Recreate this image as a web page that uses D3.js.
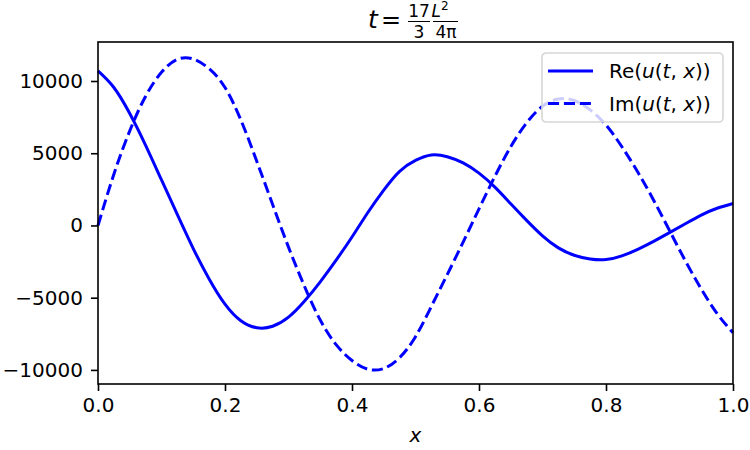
<!DOCTYPE html>
<html>
<head>
<meta charset="utf-8">
<script src="https://cdn.jsdelivr.net/npm/d3@7"></script>
<style>
  body { margin: 0; background: #fff; }
  svg text { font-family: "DejaVu Sans", sans-serif; fill: #000; }
</style>
</head>
<body>
<div id="chart"></div>
<script>
// values
var xs = [0, 0.025, 0.05, 0.075, 0.1, 0.125, 0.15, 0.175, 0.2, 0.225,
          0.25, 0.275, 0.3, 0.325, 0.35, 0.375, 0.4, 0.425, 0.45, 0.475,
          0.5, 0.525, 0.55, 0.575, 0.6, 0.625, 0.65, 0.675, 0.7, 0.725,
          0.75, 0.775, 0.8, 0.825, 0.85, 0.875, 0.9, 0.925, 0.95, 0.975, 1];

var reVals = [10700, 9550, 7750, 5550, 3150, 750, -1600, -3700, -5450, -6600,
              -7080, -6980, -6350, -5250, -3900, -2400, -800, 900, 2450, 3750,
              4500, 4880, 4760, 4330, 3620, 2650, 1500, 350, -720, -1550,
              -2060, -2320, -2360, -2100, -1650, -1100, -500, 120, 720, 1190, 1520];

var imVals = [0, 3550, 6550, 8950, 10600, 11500, 11520, 10850, 9550, 7300,
              4450, 1450, -1500, -4200, -6550, -8250, -9350, -9950, -9900, -9150,
              -7700, -5600, -3400, -1150, 1150, 3400, 5450, 7100, 8250, 8750,
              8650, 8000, 6950, 5450, 3700, 1750, -350, -2450, -4400, -6100, -7430];

var xTicks = [0, 0.2, 0.4, 0.6, 0.8, 1.0];
var yTicks = [-10000, -5000, 0, 5000, 10000];
var xLimits = [0, 1];
var yLimits = [-10975, 12700];

var margin = {top: 42, right: 17, bottom: 66, left: 98},
    width = 750 - margin.left - margin.right,
    height = 450 - margin.top - margin.bottom;

var svg = d3.select("#chart").append("svg")
    .attr("width", 750)
    .attr("height", 450);

var g = svg.append("g").attr("transform", "translate(" + margin.left + "," + margin.top + ")");

var x = d3.scaleLinear().domain(xLimits).range([0, width]);
var y = d3.scaleLinear().domain(yLimits).range([height, 0]);

var line = d3.line()
    .x(function(d) { return x(d[0]); })
    .y(function(d) { return y(d[1]); })
    .curve(d3.curveNatural);

g.append("path")
    .datum(d3.zip(xs, reVals))
    .attr("fill", "none")
    .attr("stroke", "#0000ff")
    .attr("stroke-width", 3)
    .attr("d", line);

g.append("path")
    .datum(d3.zip(xs, imVals))
    .attr("fill", "none")
    .attr("stroke", "#0000ff")
    .attr("stroke-width", 3)
    .attr("stroke-dasharray", "11.1,4.8")
    .attr("d", line);

// axes
var xAxis = g.append("g")
    .attr("transform", "translate(0," + height + ")")
    .call(d3.axisBottom(x).tickValues(xTicks).tickFormat(d3.format(".1f")).tickSize(7).tickPadding(7));
var yAxis = g.append("g")
    .call(d3.axisLeft(y).tickValues(yTicks).tickFormat(d3.format("d")).tickSize(7).tickPadding(8));

[xAxis, yAxis].forEach(function(a) {
  a.select(".domain").remove();
  a.selectAll(".tick line").attr("stroke", "#000").attr("stroke-width", 1.6);
  a.selectAll(".tick text").style("font-size", "20px").attr("fill", "#000");
});

g.append("rect")
    .attr("width", width)
    .attr("height", height)
    .attr("fill", "none")
    .attr("stroke", "#000")
    .attr("stroke-width", 1.6);

// legend
var legend = g.append("g").attr("transform", "translate(" + (width - 191) + ",11)");
legend.append("rect")
    .attr("width", 181).attr("height", 69).attr("rx", 4)
    .attr("fill", "#fff").attr("fill-opacity", 0.8)
    .attr("stroke", "#d6d6d6").attr("stroke-width", 1.6);

var entries = [{name: "Re", dash: null}, {name: "Im", dash: "11.1,4.8"}];
entries.forEach(function(e, i) {
  var ly = 18 + i * 32.5;
  legend.append("line")
      .attr("x1", 6).attr("x2", 51).attr("y1", ly).attr("y2", ly)
      .attr("stroke", "#0000ff").attr("stroke-width", 3)
      .attr("stroke-dasharray", e.dash);
  var t = legend.append("text")
      .attr("x", 67).attr("y", ly + 7)
      .style("font-size", "20px");
  var parts = [[e.name + "(", false], ["u", true], ["(", false], ["t", true], [",", false], [" x", true], ["))", false]];
  parts.forEach(function(p) {
    t.append("tspan").text(p[0]).style("font-style", p[1] ? "italic" : "normal");
  });
});

// x label
svg.append("text")
    .attr("x", margin.left + width / 2)
    .attr("y", 442)
    .attr("text-anchor", "middle")
    .style("font-size", "20px")
    .style("font-style", "italic")
    .text("x");

// title  t = 17/3 L^2/(4 pi)
var title = svg.append("g");
title.append("text").attr("x", 368).attr("y", 28).style("font-size", "25px").style("font-style", "italic").text("t");
title.append("text").attr("x", 381).attr("y", 28).style("font-size", "24px").text("=");
title.append("text").attr("x", 419).attr("y", 17).attr("text-anchor", "middle").style("font-size", "17px").text("17");
title.append("text").attr("x", 419).attr("y", 38).attr("text-anchor", "middle").style("font-size", "17px").text("3");
title.append("line").attr("x1", 408).attr("x2", 430).attr("y1", 21.5).attr("y2", 21.5).attr("stroke", "#000").attr("stroke-width", 1);
var num = title.append("text").attr("x", 440).attr("y", 17).attr("text-anchor", "middle").style("font-size", "17px");
num.append("tspan").style("font-style", "italic").text("L");
num.append("tspan").attr("dy", -7).style("font-size", "12px").text("2");
title.append("text").attr("x", 446).attr("y", 38).attr("text-anchor", "middle").style("font-size", "17px").text("4π");
title.append("line").attr("x1", 433).attr("x2", 458).attr("y1", 21.5).attr("y2", 21.5).attr("stroke", "#000").attr("stroke-width", 1);
</script>
</body>
</html>
